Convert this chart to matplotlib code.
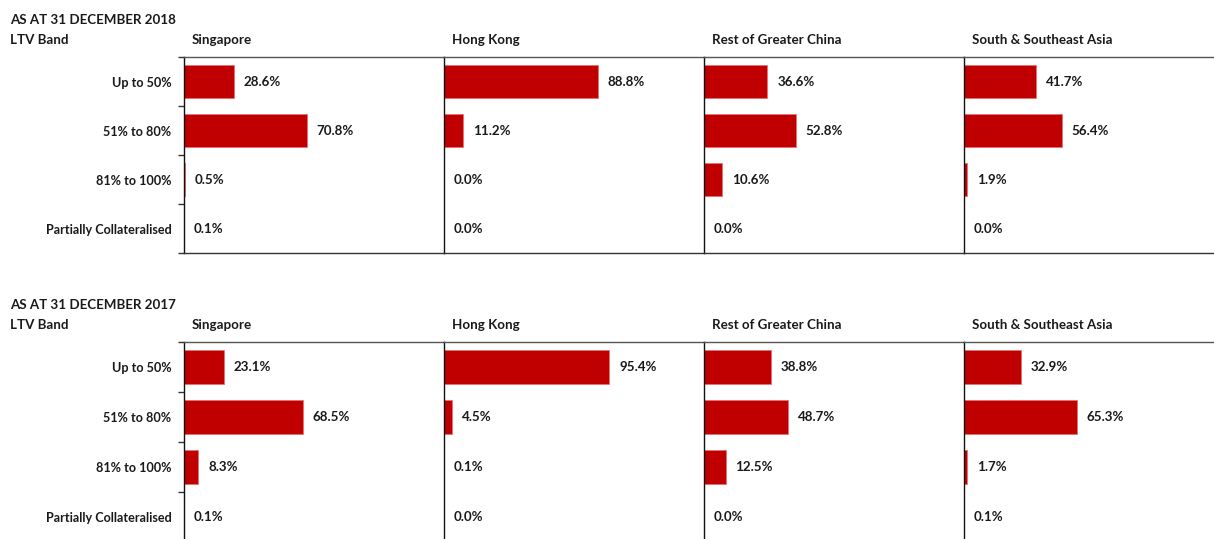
import matplotlib.pyplot as plt

bands = ['Up to 50%', '51% to 80%', '81% to 100%', 'Partially Collateralised']
regions = ['Singapore', 'Hong Kong', 'Rest of Greater China', 'South & Southeast Asia']

ltv_2018 = [
    [28.6, 70.8, 0.5, 0.1],
    [88.8, 11.2, 0.0, 0.0],
    [36.6, 52.8, 10.6, 0.0],
    [41.7, 56.4, 1.9, 0.0],
]
ltv_2017 = [
    [23.1, 68.5, 8.3, 0.1],
    [95.4, 4.5, 0.1, 0.0],
    [38.8, 48.7, 12.5, 0.0],
    [32.9, 65.3, 1.7, 0.1],
]
titles = ['AS AT 31 DECEMBER 2018', 'AS AT 31 DECEMBER 2017']

W, H = 1214, 539
FONT = 'Lato'
RED = '#C00000'
TXT = '#1a1a1a'

fig = plt.figure(figsize=(W / 100, H / 100), dpi=100)


def px_axes(x0, y_top, w, h):
    return fig.add_axes([x0 / W, 1 - (y_top + h) / H, w / W, h / H])


def draw_block(data, title, y_top, h):
    fig.text(10 / W, 1 - (y_top - 37) / H, title, fontsize=9.6, fontweight='bold',
             family=FONT, color=TXT, va='center', ha='left')
    fig.text(10 / W, 1 - (y_top - 17) / H, 'LTV Band', fontsize=9.6, fontweight='bold',
             family=FONT, color=TXT, va='center', ha='left')
    for i, (reg, vals) in enumerate(zip(regions, data)):
        x0 = 184 + 260 * i
        ax = px_axes(x0, y_top, 260, h)
        ax.barh(range(len(bands)), vals, height=0.68, color=RED,
                edgecolor='#E57373', linewidth=0.6)
        for j, v in enumerate(vals):
            ax.annotate(f'{v:.1f}%', (v, j), xytext=(7, 0), textcoords='offset points',
                        va='center', ha='left', fontsize=9.6, fontweight='bold',
                        family=FONT, color=TXT)
        ax.set_xlim(0, 150)
        ax.set_ylim(3.5, -0.5)
        ax.set_xticks([])
        ax.spines['right'].set_visible(False)
        ax.spines['top'].set_color('#555555')
        ax.spines['bottom'].set_color('#333333')
        ax.spines['left'].set_color('#111111')
        for s in ax.spines.values():
            s.set_linewidth(1.0)
        if i == 0:
            ax.set_yticks(range(len(bands)))
            ax.set_yticklabels(bands, fontsize=9.1, fontweight='bold', family=FONT, color=TXT)
            ax.set_yticks([-0.5, 0.5, 1.5, 2.5, 3.5], minor=True)
            ax.tick_params(axis='y', which='major', length=0, pad=9)
            ax.tick_params(axis='y', which='minor', length=4, width=1, color='#333333')
        else:
            ax.set_yticks([])
        fig.text((x0 + 8) / W, 1 - (y_top - 17) / H, reg, fontsize=9.6, fontweight='bold',
                 family=FONT, color=TXT, va='center', ha='left')


draw_block(ltv_2018, titles[0], 57, 196)
draw_block(ltv_2017, titles[1], 342, 200)

fig.savefig('out.png', dpi=100)
